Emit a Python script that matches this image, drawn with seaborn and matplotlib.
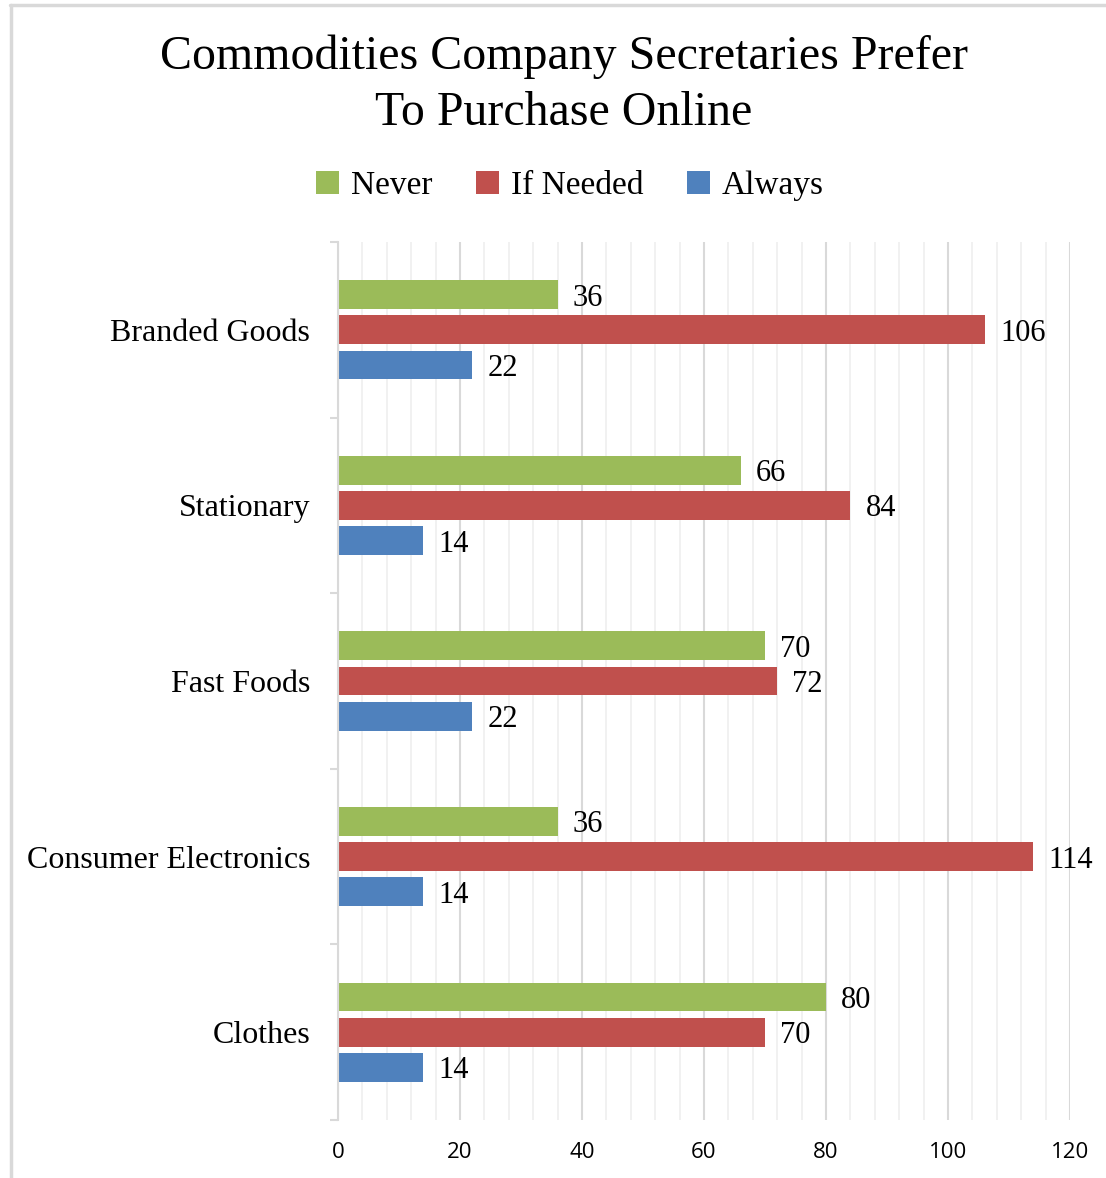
import matplotlib
matplotlib.use("Agg")
import matplotlib.pyplot as plt
from matplotlib.lines import Line2D
from matplotlib.patches import Patch
from matplotlib.ticker import MultipleLocator, FixedLocator
import seaborn as sns
import pandas as pd

categories = ["Branded Goods", "Stationary", "Fast Foods", "Consumer Electronics", "Clothes"]
series_names = ["Never", "If Needed", "Always"]
never = [36, 66, 70, 36, 80]
if_needed = [106, 84, 72, 114, 70]
always = [22, 14, 22, 14, 14]
colors = ["#9BBB59", "#C0504D", "#4F81BD"]
title = "Commodities Company Secretaries Prefer\nTo Purchase Online"

rows = []
for name, vals in zip(series_names, [never, if_needed, always]):
    for c, v in zip(categories, vals):
        rows.append({"Category": c, "Series": name, "Value": v})
df = pd.DataFrame(rows)

sns.set_theme(style="white")
plt.rcParams["font.family"] = ["Liberation Serif", "DejaVu Serif"]
plt.rcParams["text.color"] = "black"
plt.rcParams["xtick.color"] = "black"
plt.rcParams["ytick.color"] = "black"

W, H = 1106, 1178
fig = plt.figure(figsize=(W / 100, H / 100), dpi=100)
ax = fig.add_axes([338 / W, 1 - 1120 / H, (1070 - 338) / W, (1120 - 242) / H])

sns.barplot(data=df, y="Category", x="Value", hue="Series", order=categories,
            hue_order=series_names, palette=colors, orient="h", width=0.6, gap=0.18,
            legend=False, ax=ax, saturation=1, edgecolor="none")

ax.set_xlim(0, 120)
ax.set_ylim(4.5, -0.5)
ax.xaxis.set_major_locator(MultipleLocator(20))
ax.xaxis.set_minor_locator(MultipleLocator(4))
ax.grid(which="major", axis="x", color="#d9d9d9", lw=1.5, zorder=0)
ax.grid(which="minor", axis="x", color="#f0f0f0", lw=1.3, zorder=0)
ax.set_axisbelow(True)
ax.set_xlabel("")
ax.set_ylabel("")

for s in ["top", "right", "bottom"]:
    ax.spines[s].set_visible(False)
ax.spines["left"].set_color("#d9d9d9")
ax.spines["left"].set_linewidth(1.5)

ax.yaxis.set_minor_locator(FixedLocator([-0.5, 0.5, 1.5, 2.5, 3.5, 4.5]))
ax.tick_params(axis="y", which="minor", left=True, length=6, width=1.5, color="#d9d9d9")
ax.tick_params(axis="y", which="major", length=0, pad=20, labelsize=23, labelcolor="black")
ax.tick_params(axis="x", which="both", length=0, pad=16, labelsize=16, labelcolor="black")
for lab in ax.get_xticklabels():
    lab.set_family(["Liberation Sans Narrow", "Open Sans", "DejaVu Sans"])

for cont in ax.containers:
    labs = ax.bar_label(cont, padding=11, fontsize=22, color="black")
    for t in labs:
        t.set_va("center_baseline")

fig.text(564 / W, 1 - 85 / H, title, ha="center", va="center", fontsize=34.5,
         linespacing=1.35, color="black")

handles = [Patch(facecolor=c, edgecolor="none") for c in colors]
fig.legend(handles, series_names, loc="center", bbox_to_anchor=(570 / W, 1 - 186 / H),
           ncol=3, frameon=False, fontsize=24, handlelength=0.7, handleheight=0.7,
           handletextpad=0.35, columnspacing=1.3, labelcolor="black")

fig.add_artist(Line2D([10.5 / W, 10.5 / W], [0, 1 - 5 / H], transform=fig.transFigure,
                      color="#d9d9d9", lw=2.5))
fig.add_artist(Line2D([10 / W, 1], [1 - 5 / H, 1 - 5 / H], transform=fig.transFigure,
                      color="#d9d9d9", lw=2.5))

fig.savefig("out.png", dpi=100)
